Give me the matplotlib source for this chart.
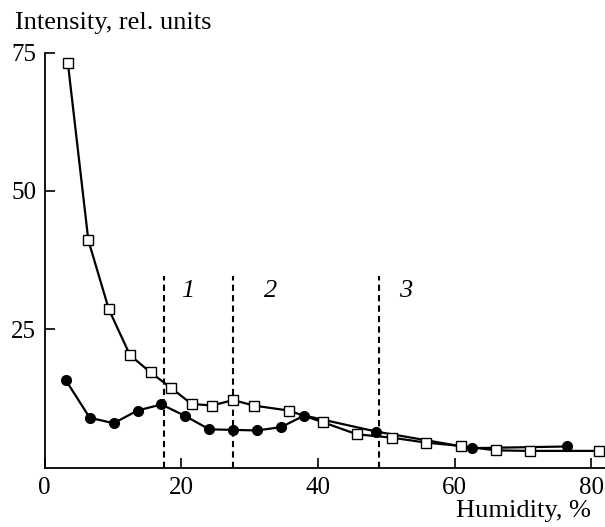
import numpy as np
import matplotlib.pyplot as plt

plt.rcParams['font.family'] = ['Liberation Serif', 'DejaVu Serif']

# open squares
sq_x = [3.4, 6.4, 9.4, 12.5, 15.5, 18.5, 21.5, 24.5, 27.6, 30.6, 35.7, 40.7,
        45.7, 50.8, 55.8, 60.9, 66.0, 71.0, 81.1]
sq_y = [73.2, 41.1, 28.6, 20.3, 17.2, 14.4, 11.5, 11.2, 12.2, 11.2, 10.3, 8.2,
        6.0, 5.4, 4.5, 3.9, 3.1, 3.0, 3.0]
# filled circles
ci_x = [3.1, 6.6, 10.1, 13.6, 17.1, 20.6, 24.1, 27.6, 31.1, 34.6, 38.0, 48.5,
        62.5, 76.4]
ci_y = [15.8, 9.0, 8.0, 10.3, 11.4, 9.3, 6.9, 6.8, 6.7, 7.3, 9.4, 6.5,
        3.5, 3.8]
# dashed boundaries and their labels
vlines = [17.5, 27.6, 48.9]
region_labels = ['1', '2', '3']
label_x = [21.0, 33.1, 52.9]

fig = plt.figure(figsize=(6.05, 5.27), dpi=100)
ax = fig.add_axes([0.0737, 0.1129, 0.9263, 0.7871])

for v in vlines:
    ax.plot([v, v], [0, 34.6], color='black', linestyle=(0, (3, 2)), linewidth=1.5)
for lx, lab in zip(label_x, region_labels):
    ax.text(lx, 32.0, lab, fontsize=19, style='italic', ha='center', va='center')

ax.plot(ci_x, ci_y, color='black', linewidth=1.6, marker='o', markersize=7,
        markerfacecolor='black', zorder=3)
ax.plot(sq_x, sq_y, color='black', linewidth=1.6, marker='s', markersize=6.5,
        markerfacecolor='white', markeredgewidth=1.0, zorder=4)

ax.set_xlim(0, 82)
ax.set_ylim(0, 75)
ax.set_xticks([0, 20, 40, 60, 80])
ax.set_yticks([25, 50, 75])
ax.spines['top'].set_visible(False)
ax.spines['right'].set_visible(False)
ax.spines['left'].set_linewidth(1.3)
ax.spines['bottom'].set_linewidth(1.3)
ax.tick_params(direction='in', length=7, width=1.2, labelsize=18, pad=7)
ax.tick_params(axis='y', pad=6)

fig.text(0.025, 0.956, 'Intensity, rel. units', fontsize=19, va='center', ha='left')
fig.text(0.977, 0.03, 'Humidity, %', fontsize=19, va='center', ha='right')

fig.savefig('out.png', dpi=100)
